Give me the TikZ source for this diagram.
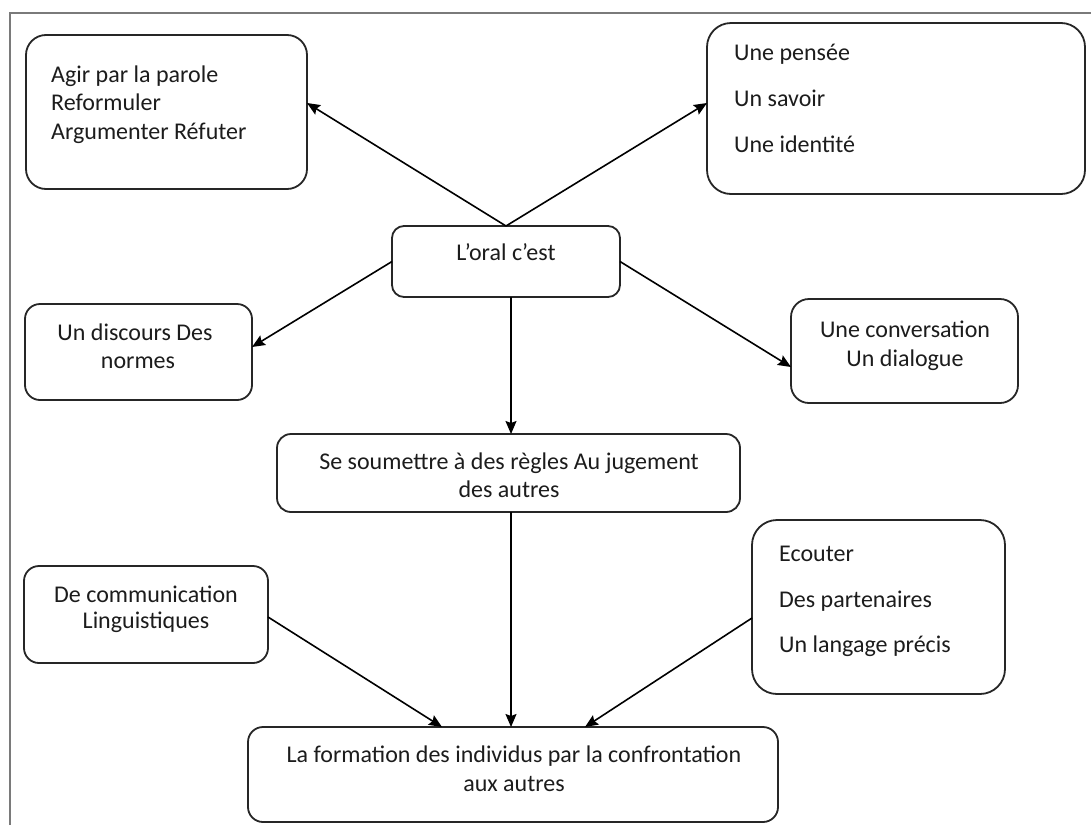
\documentclass[tikz,border=0pt]{standalone}
\usepackage{fontspec}
\setmainfont{Carlito}
\usetikzlibrary{arrows.meta}
\definecolor{boxc}{HTML}{262626}
\definecolor{txtc}{HTML}{1C1C1C}
\definecolor{framec}{HTML}{7A7A7A}
\begin{document}
\begin{tikzpicture}[x=1pt,y=-1pt,
  box/.style={draw=boxc, line width=1.8pt, inner sep=0pt, outer sep=0pt, anchor=center},
  txt/.style={inner sep=0pt, text=txtc, font=\fontsize{24}{29}\selectfont},
  arr/.style={draw=black, line width=1.6pt, -{Stealth[length=13pt,width=11pt,inset=2pt]}}]
\useasboundingbox (0,0) rectangle (1091,825);
\fill[white] (0,0) rectangle (1091,825);
% frame
\draw[framec, line width=1.5pt] (10,825) -- (10,13) -- (1091,13);

% boxes
\node[box, rounded corners=20pt, minimum width=281pt, minimum height=154pt] (agir) at (166.5,112) {};
\node[box, rounded corners=24pt, minimum width=378pt, minimum height=171pt] (pensee) at (896,108.5) {};
\node[box, rounded corners=12pt, minimum width=228pt, minimum height=71pt] (oral) at (506,261.5) {};
\node[box, rounded corners=15pt, minimum width=227pt, minimum height=96pt] (discours) at (138.5,352) {};
\node[box, rounded corners=18pt, minimum width=227pt, minimum height=104pt] (conv) at (904.5,351) {};
\node[box, rounded corners=14pt, minimum width=463pt, minimum height=78pt] (soum) at (508.5,473) {};
\node[box, rounded corners=15pt, minimum width=244pt, minimum height=97pt] (comm) at (146,614.5) {};
\node[box, rounded corners=25pt, minimum width=253pt, minimum height=174pt] (ecout) at (878.5,607) {};
\node[box, rounded corners=15pt, minimum width=530pt, minimum height=95pt] (form) at (513,774.5) {};

% texts
\node[txt, anchor=base west] (t1a) at (51,82) {Agir par la parole};
\node[txt, anchor=base west] (t1b) at (51,110) {Reformuler};
\node[txt, anchor=base west] (t1c) at (51,139) {Argumenter Réfuter};

\node[txt, anchor=base west] (t2a) at (734,60) {Une pensée};
\node[txt, anchor=base west] (t2b) at (734,106) {Un savoir};
\node[txt, anchor=base west] (t2c) at (734,152) {Une identité};

\node[txt, anchor=base] (t3) at (506,260) {L’oral c’est};

\node[txt, anchor=base] (t4a) at (135,340) {Un discours Des};
\node[txt, anchor=base] (t4b) at (138,368) {normes};

\node[txt, anchor=base] (t5a) at (905,337) {Une conversation};
\node[txt, anchor=base] (t5b) at (905,366) {Un dialogue};

\node[txt, anchor=base] (t6a) at (509,469) {Se soumettre à des règles Au jugement};
\node[txt, anchor=base] (t6b) at (509,497) {des autres};

\node[txt, anchor=base] (t7a) at (146,602) {De communication};
\node[txt, anchor=base] (t7b) at (146,628) {Linguistiques};

\node[txt, anchor=base west] (t8a) at (779,561) {Ecouter};
\node[txt, anchor=base west] (t8b) at (779,607) {Des partenaires};
\node[txt, anchor=base west] (t8c) at (779,652) {Un langage précis};

\node[txt, anchor=base] (t9a) at (514,762) {La formation des individus par la confrontation};
\node[txt, anchor=base] (t9b) at (514,791) {aux autres};

% connectors
\draw[arr] (oral.north) -- ([yshift=9pt]agir.east);
\draw[arr] (oral.north) -- ([yshift=5.5pt]pensee.west);
\draw[arr] (oral.west) -- ([yshift=5pt]discours.east);
\draw[arr] (oral.east) -- ([yshift=-16pt]conv.west);
\draw[arr] ([xshift=5pt]oral.south) -- ([xshift=5pt]oral.south |- soum.north);
\draw[arr] ([xshift=5pt]oral.south |- soum.south) -- ([xshift=5pt]oral.south |- form.north);
\draw[arr] ([yshift=-2.5pt]comm.east) -- ([xshift=-71pt]form.north);
\draw[arr] ([yshift=-11pt]ecout.west) -- ([xshift=72pt]form.north);
\end{tikzpicture}
\end{document}
